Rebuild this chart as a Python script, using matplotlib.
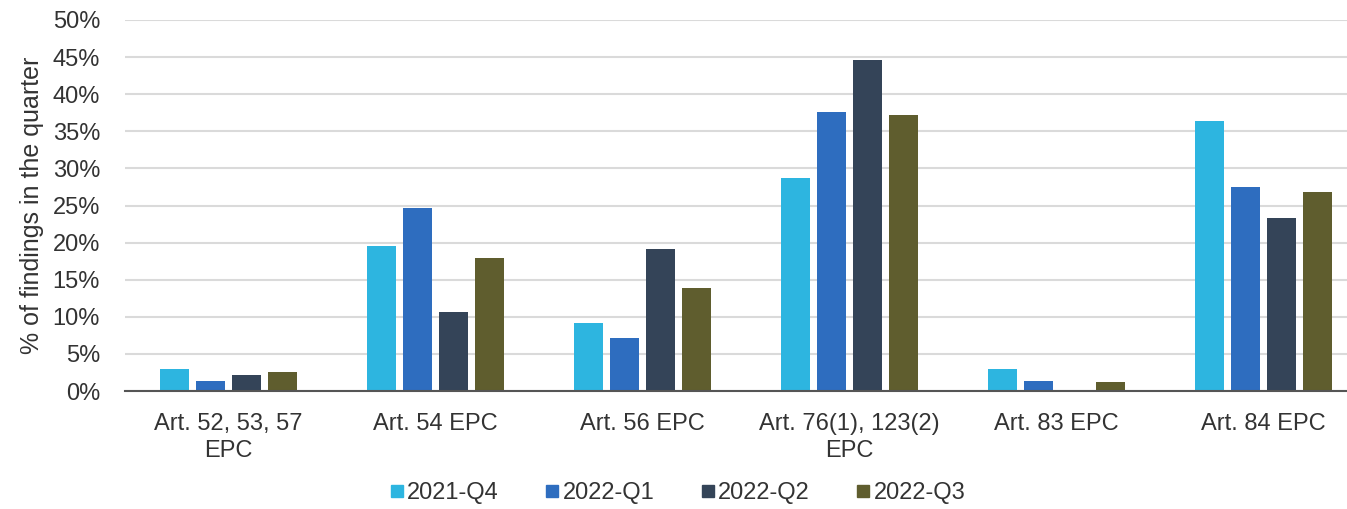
import numpy as np
import matplotlib.pyplot as plt
from matplotlib.lines import Line2D

plt.rcParams['font.family'] = ['Liberation Sans', 'DejaVu Sans']

# findings by article, share of the quarter (%)
articles = ['Art. 52, 53, 57\nEPC', 'Art. 54 EPC', 'Art. 56 EPC',
            'Art. 76(1), 123(2)\nEPC', 'Art. 83 EPC', 'Art. 84 EPC']
quarters = ['2021-Q4', '2022-Q1', '2022-Q2', '2022-Q3']
q2021_4 = [3.0, 19.5, 9.2, 28.7, 3.0, 36.4]
q2022_1 = [1.4, 24.7, 7.1, 37.6, 1.4, 27.5]
q2022_2 = [2.1, 10.6, 19.1, 44.6, 0.0, 23.3]
q2022_3 = [2.6, 17.9, 13.9, 37.2, 1.2, 26.8]
colors = ['#2db5e0', '#2e6dbf', '#344458', '#5f5d2e']

fig = plt.figure(figsize=(13.47, 5.09), dpi=100)
ax = fig.add_axes([125 / 1347, 118 / 509, 1242 / 1347, 371 / 509])

x = np.arange(len(articles))
width = 0.14
pitch = 0.174
series = [q2021_4, q2022_1, q2022_2, q2022_3]
for i, vals in enumerate(series):
    ax.bar(x + (i - 1.5) * pitch, vals, width, color=colors[i], zorder=3)

# axes styling
ax.set_xlim(-0.5, len(articles) - 0.5)
ax.set_ylim(0, 50)
ax.set_yticks(np.arange(0, 51, 5))
ax.set_yticklabels(['%d%%' % v for v in range(0, 51, 5)])
ax.yaxis.grid(True, color='#dadada', lw=1.5, zorder=0)
ax.set_axisbelow(True)
for s in ['top', 'right', 'left']:
    ax.spines[s].set_visible(False)
ax.spines['bottom'].set_color('#555555')
ax.spines['bottom'].set_linewidth(1.5)
ax.spines['bottom'].set_zorder(4)
ax.tick_params(axis='both', length=0, labelsize=17, colors='#333333')
ax.tick_params(axis='y', pad=18)
ax.tick_params(axis='x', pad=16)
ax.set_xticks(x)
ax.set_xticklabels(articles, linespacing=1.3)
ax.set_ylabel('% of findings in the quarter', fontsize=18, color='#333333', labelpad=6)

handles = [Line2D([], [], ls='none', marker='s', markersize=8, color=c) for c in colors]
fig.legend(handles, quarters, loc='center', bbox_to_anchor=(678 / 1347, 1 - 493 / 509),
           ncol=4, frameon=False, fontsize=17, handlelength=0.5, handletextpad=0.2,
           columnspacing=2.0, labelcolor='#333333')

fig.savefig('out.png', dpi=100)
